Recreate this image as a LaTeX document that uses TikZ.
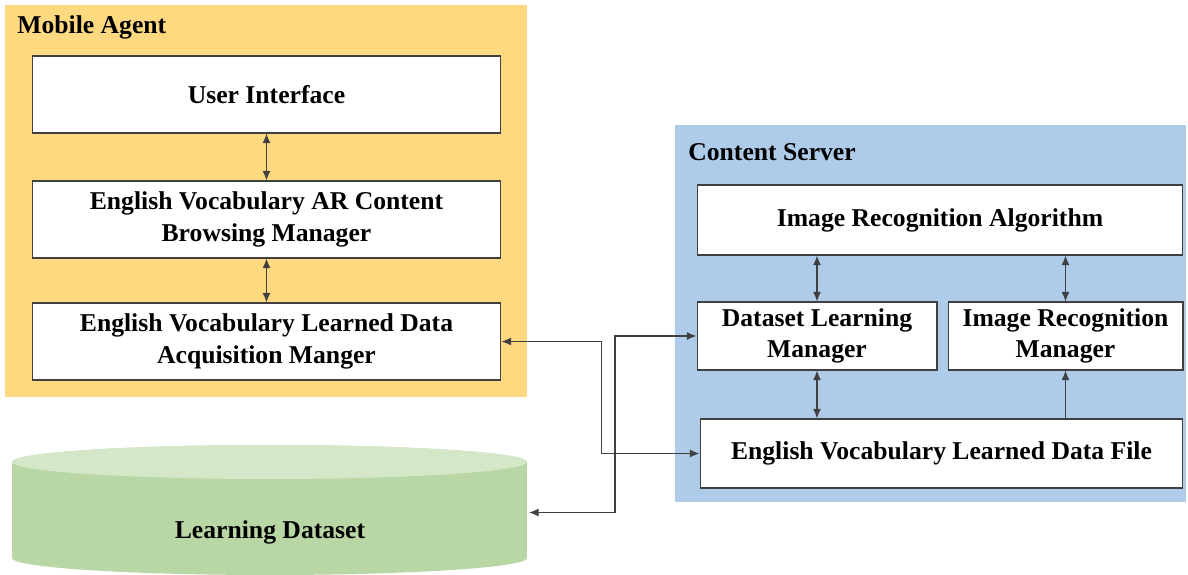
\documentclass[tikz,border=0pt]{standalone}
\usepackage{fontspec}
\setmainfont{Liberation Serif}
\usetikzlibrary{arrows.meta}

\definecolor{agentbg}{HTML}{FFD97F}
\definecolor{serverbg}{HTML}{AFCBEA}
\definecolor{dsbody}{HTML}{B9D6A5}
\definecolor{dstop}{HTML}{D4E7C8}
\definecolor{boxline}{HTML}{404040}

\tikzset{
  modbox/.style={draw=boxline, line width=0.6pt, fill=white, align=center,
    inner sep=0pt, font=\fontsize{14.6}{18}\selectfont\bfseries},
  grouptitle/.style={anchor=west, inner sep=0pt,
    font=\fontsize{14.6}{18}\selectfont\bfseries},
  link/.style={draw=boxline, line width=0.6pt,
    {Latex[length=5.5pt,width=4.5pt]}-{Latex[length=5.5pt,width=4.5pt]}},
  uplink/.style={draw=boxline, line width=0.6pt, -{Latex[length=5.5pt,width=4.5pt]}}
}

\begin{document}
\begin{tikzpicture}[x=0.02cm, y=-0.02cm]
  \useasboundingbox[fill=white] (0,0) rectangle (1188,575);

  % group backgrounds
  \fill[agentbg] (5,5) rectangle (527,397);
  \fill[serverbg] (675,125) rectangle (1186,502);
  \node[grouptitle] (agentT) at (17,27) {Mobile Agent};
  \node[grouptitle] (serverT) at (688,152) {Content Server};

  % mobile agent
  \node[modbox, minimum width=9.38cm, minimum height=1.54cm] (ui) at (266.5,94.5) {User Interface};
  \node[modbox, minimum width=9.38cm, minimum height=1.54cm] (brw) at (266.5,219.5)
    {English Vocabulary AR Content\\Browsing Manager};
  \node[modbox, minimum width=9.38cm, minimum height=1.54cm] (acq) at (266.5,341.5)
    {English Vocabulary Learned Data\\Acquisition Manger};

  % content server
  \node[modbox, minimum width=9.72cm, minimum height=1.40cm] (alg) at (940,220) {Image Recognition Algorithm};
  \node[modbox, minimum width=4.80cm, minimum height=1.36cm] (dlm) at (817,336) {Dataset Learning\\Manager};
  \node[modbox, minimum width=4.70cm, minimum height=1.36cm] (irm) at (1065.5,336) {Image Recognition\\Manager};
  \node[modbox, minimum width=9.66cm, minimum height=1.38cm] (file) at (941.5,453.5) {English Vocabulary Learned Data File};

  % learning dataset
  \fill[dsbody] (12,462) -- (12,558) arc[start angle=180, end angle=360, x radius=5.15cm, y radius=0.34cm]
    -- (527,462) arc[start angle=0, end angle=180, x radius=5.15cm, y radius=0.34cm] -- cycle;
  \fill[dstop] (269.5,462) ellipse [x radius=5.15cm, y radius=0.34cm];
  \node[font=\fontsize{14.6}{18}\selectfont\bfseries] (lds) at (270,532) {Learning Dataset};
  \coordinate (ldsR) at (529,512.5);

  % connectors
  \draw[link] (ui.south) -- (brw.north);
  \draw[link] (brw.south) -- (acq.north);
  \draw[link] (dlm.north |- alg.south) -- (dlm.north);
  \draw[link] (irm.north |- alg.south) -- (irm.north);
  \draw[link] (dlm.south) -- (dlm.south |- file.north);
  \draw[uplink] (irm.south |- file.north) -- (irm.south);
  \draw[link] (acq.east) -- ++(100,0) |- (file.west);
  \draw[link] (ldsR) -- ++(86,0) |- (dlm.west);
\end{tikzpicture}
\end{document}
